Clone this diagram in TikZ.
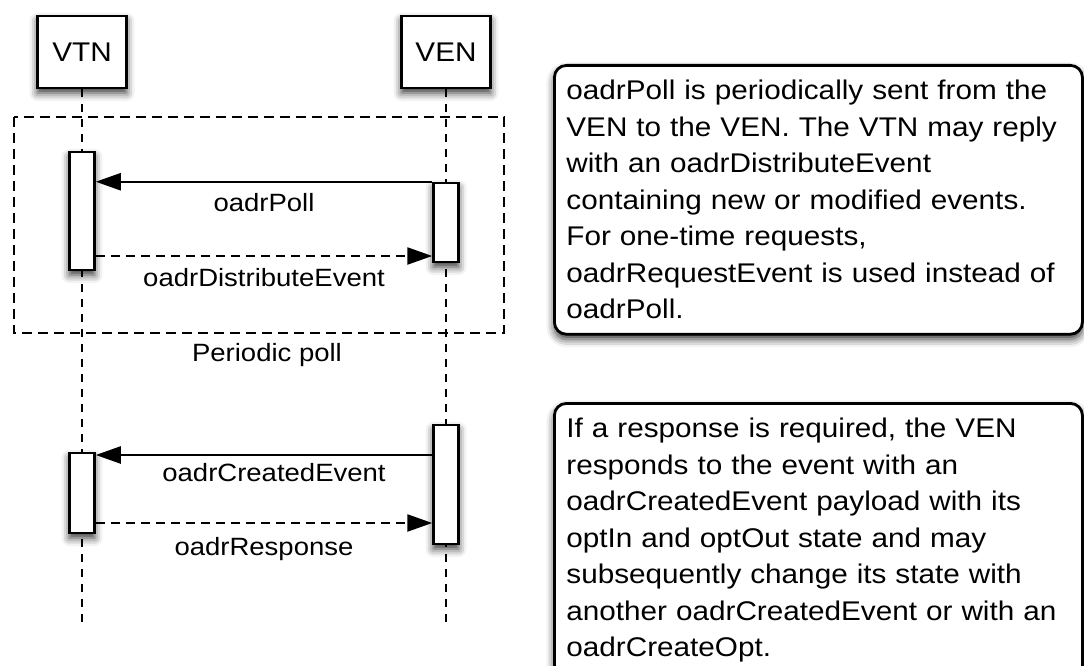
\documentclass[tikz,border=0pt]{standalone}
\usepackage{fontspec}
\setmainfont{Liberation Sans}[FakeStretch=1.1]
\usetikzlibrary{arrows.meta,shadows.blur}

\tikzset{
 softshadow/.style={blur shadow={shadow xshift=0pt,shadow yshift=-5pt,shadow blur radius=8pt,shadow opacity=80}},
 actor/.style={draw,line width=2.8pt,fill=white,minimum width=89pt,minimum height=72pt,
  font=\fontsize{27}{32}\selectfont,softshadow},
 act/.style={draw,line width=2.5pt,fill=white,minimum width=25pt,softshadow},
 lifeline/.style={line width=2.2pt,dash pattern=on 8pt off 7pt},
 frame/.style={line width=2.6pt,dash pattern=on 10pt off 6pt},
 msg/.style={line width=2.4pt,-{Triangle[length=25pt,width=17pt]}},
 reply/.style={msg,dash pattern=on 9pt off 6pt},
 lbl/.style={font=\fontsize{25}{30}\selectfont},
 note/.style={draw,line width=2.8pt,rounded corners=12pt,fill=white,align=left,
  text width=504pt,inner xsep=12pt,inner ysep=15pt,anchor=north west,
  font=\fontsize{27}{36.5}\selectfont,softshadow}
}

\begin{document}
\begin{tikzpicture}[x=1pt,y=-1pt]
 \useasboundingbox (0,0) rectangle (1084,666);

 % actors and lifelines
 \node[actor] (vtn) at (82,52) {VTN};
 \node[actor] (ven) at (446,52) {VEN};
 \coordinate (vtnend) at (82,628);
 \coordinate (venend) at (446,628);
 \draw[lifeline] (vtn) -- (vtnend);
 \draw[lifeline] (ven) -- (venend);

 % periodic poll
 \draw[frame] (14,117) rectangle (504,333);
 \node[lbl] (pollnote) at (267,355) {Periodic poll};
 \node[act,minimum height=118pt] (vtnpoll) at (82,211) {};
 \node[act,minimum height=79pt] (venpoll) at (446,222.5) {};
 \coordinate (distrow) at (0,256);
 \draw[msg] (venpoll.north west) -- (venpoll.north west -| vtnpoll.east)
  node[lbl,midway,below=7pt] {oadrPoll};
 \draw[reply] (vtnpoll.east |- distrow) -- (venpoll.west |- distrow)
  node[lbl,midway,below=8pt] {oadrDistributeEvent};

 % event response
 \node[act,minimum height=80pt] (vtnresp) at (82,493) {};
 \node[act,minimum height=119pt] (venresp) at (446,484.5) {};
 \coordinate (createdrow) at (0,455);
 \coordinate (resprow) at (0,523);
 \draw[msg] (venresp.west |- createdrow) -- (vtnresp.east |- createdrow)
  node[lbl,midway,below=4pt,xshift=10pt] {oadrCreatedEvent};
 \draw[reply] (vtnresp.east |- resprow) -- (venresp.west |- resprow)
  node[lbl,midway,below=10pt] {oadrResponse};

 % notes
 \node[note] (pollbox) at (553,64) {oadrPoll is periodically sent from the\\
  VEN to the VEN. The VTN may reply\\
  with an oadrDistributeEvent\\
  containing new or modified events.\\
  For one-time requests,\\
  oadrRequestEvent is used instead of\\
  oadrPoll.};
 \node[note] (respbox) at (553,402) {If a response is required, the VEN\\
  responds to the event with an\\
  oadrCreatedEvent payload with its\\
  optIn and optOut state and may\\
  subsequently change its state with\\
  another oadrCreatedEvent or with an\\
  oadrCreateOpt.};
\end{tikzpicture}
\end{document}
